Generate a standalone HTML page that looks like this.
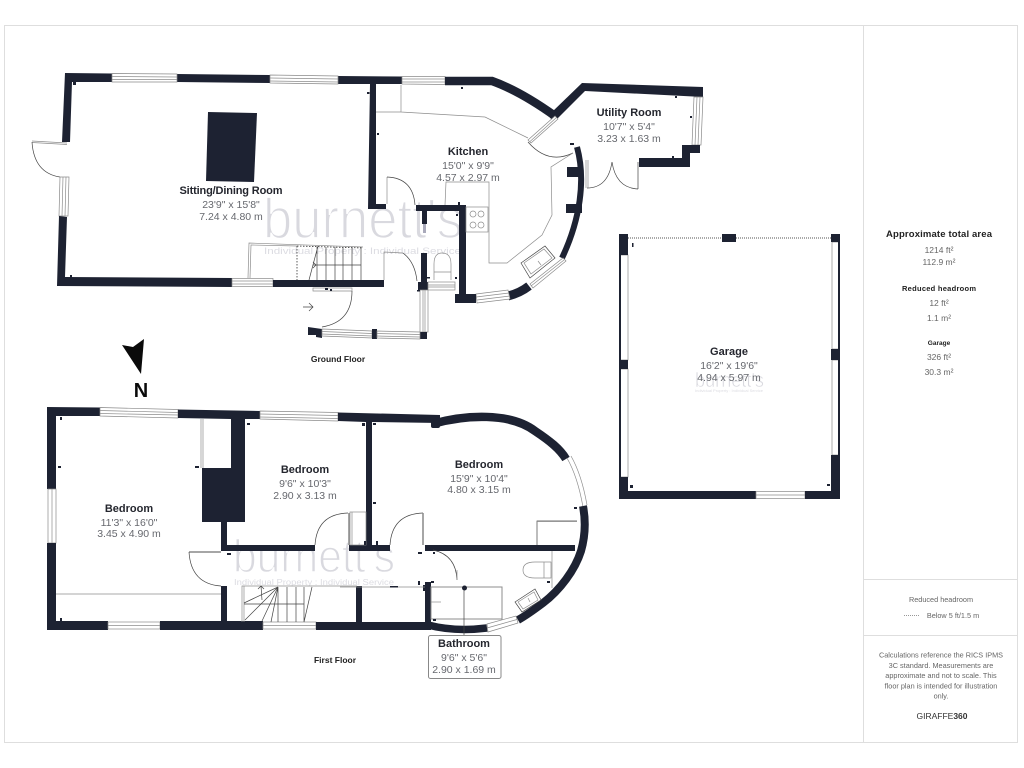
<!DOCTYPE html>
<html><head><meta charset="utf-8"><style>
html,body{margin:0;padding:0;background:#fff}
svg{display:block}
text{font-family:"Liberation Sans",sans-serif}
.t{font-size:11px;font-weight:bold;fill:#24262e;text-anchor:middle}
.d{font-size:10.5px;fill:#66686e;text-anchor:middle}
.wm{fill:#d9d9df;stroke:#fff;stroke-width:1.7}
.ws{fill:#dcdce2}
.w{fill:#1d2232}
.ws2{fill:none;stroke:#1d2232}
.win{fill:#fff;stroke:#8a8a8a;stroke-width:.7}
.l{fill:none;stroke:#8d8d8d;stroke-width:.7}
.a{fill:none;stroke:#444;stroke-width:.7}
.p{font-size:8.500px;fill:#666;text-anchor:middle}
.q{font-size:7.300px;fill:#666;text-anchor:middle}
.m{fill:#1d2232}
</style></head><body>
<svg width="1024" height="768" viewBox="0 0 1024 768" xmlns="http://www.w3.org/2000/svg">
<rect width="1024" height="768" fill="#fff"/>
<!-- frame -->
<rect x="4.5" y="25.5" width="1013" height="717" fill="none" stroke="#dedede"/>
<path d="M863.5 25V742M864 579.5H1017M864 635.5H1017" stroke="#dedede" fill="none"/>

<!-- watermarks -->
<text class="wm" x="263" y="238" font-size="57" textLength="200" lengthAdjust="spacingAndGlyphs">burnett's</text>
<text class="ws" x="264" y="254" font-size="9.5" textLength="197" lengthAdjust="spacingAndGlyphs">Individual Property : Individual Service</text>
<text class="wm" x="233" y="572" font-size="46" textLength="162" lengthAdjust="spacingAndGlyphs" style="stroke-width:1.400">burnett's</text>
<text class="ws" x="234" y="585" font-size="8" textLength="160" lengthAdjust="spacingAndGlyphs">Individual Property : Individual Service</text>
<text class="wm" x="695" y="387" font-size="20" textLength="69" lengthAdjust="spacingAndGlyphs" style="stroke-width:.5">burnett's</text>
<text class="ws" x="695" y="392" font-size="3.2" textLength="68" lengthAdjust="spacingAndGlyphs">Individual Property : Individual Service</text>

<!-- GROUND FLOOR -->
<polygon class="w" points="65,73 112,73.5 112,82 72,82 70,142 62,142"/>
<polygon class="w" points="177,74 270,75 270,83 177,82"/>
<polygon class="w" points="338,76 402,76.5 402,84 376,84 376,204 386,204 386,209 368,209 370,84 338,84"/>
<polygon class="win" points="112,73.5 177,74 177,82 112,82"/><path class="l" d="M112 76.5L177 77M112 79.5H177"/>
<polygon class="win" points="270,75 338,76 338,84 270,83"/><path class="l" d="M270 78L338 79M270 81L338 82"/>
<polygon class="win" points="402,76.5 445,76.5 445,84.5 402,84"/><path class="l" d="M402 79H445M402 82H445"/>
<!-- kitchen curved wall -->
<path class="ws2" stroke-width="8.500" d="M445 81L492 81Q520 91 555 116"/>
<polygon class="w" points="552,112 582,83 703,87 703,97 585,91 556,120"/>
<rect class="w" x="552" y="112" width="5" height="8" transform="rotate(40 554 116)"/>
<!-- utility window + lower wall -->
<polygon class="win" points="694,97 703,97 701,145 692,145"/><path class="l" d="M697 97L695 145M700 97L698 145"/>
<polygon class="w" points="682,145 700,145 700,153 690,153 690,167 639,167 639,158 682,158"/>
<!-- kitchen/utility door + window -->
<polygon class="win" points="528,140 555,116 558,119 531,143"/><path class="l" d="M530 141.500L556.500 117.500"/>
<path class="a" d="M528 142Q548 165 573 153"/>
<path class="a" d="M587 188Q608 188 612 162Q616 188 638 189M638 189V162"/>
<path class="l" d="M586 160V188M588 160V188"/>
<!-- kitchen east curved wall -->
<path class="ws2" stroke-width="6" d="M577 147C586 180 580 220 562 258"/>
<rect class="w" x="567" y="167" width="14" height="10"/>
<rect class="w" x="566" y="204" width="16" height="9"/>
<polygon class="win" points="530,284 563,258 566,261 533,288"/><path class="l" d="M531 286L564 260"/>
<path class="ws2" stroke-width="9" d="M508 296Q520 293 529 286"/>
<polygon class="win" points="476,294 508,290 510,299 477,303"/><path class="l" d="M476 297L509 293M477 300L510 296"/>
<polygon class="w" points="416,205 466,205 466,294 476,294 476,303 455,303 455,294 459,294 459,211 416,211"/>
<polygon class="w" points="422,211 427,211 427,224 422,224"/>
<rect x="423" y="224" width="3" height="9" fill="#aab"/>
<rect class="w" x="421" y="253" width="6" height="29"/>
<rect class="w" x="418" y="282" width="10" height="8"/>
<rect class="win" x="428" y="282" width="27" height="8"/><path class="l" d="M428 285H455M428 287H455"/>
<rect class="win" x="420" y="290" width="8" height="42"/><path class="l" d="M423 290V332M425 290V332"/>
<rect class="w" x="419" y="332" width="8" height="7"/>
<!-- porch -->
<polygon class="w" points="308,327 322,329 322,338 316,337 316,335 308,335"/>
<polygon class="win" points="322,329 372,331 372,338 322,336"/><path class="l" d="M322 331.500L372 333.500M322 334L372 336"/>
<rect class="w" x="372" y="329" width="5" height="10"/>
<polygon class="win" points="377,331 420,332 420,339 377,338"/><path class="l" d="M377 333.500L420 334.500M377 336L420 337"/>
<!-- entry door -->
<path class="l" d="M313 288H352V291H313Z"/>
<path class="a" d="M352 291Q352 322 322 327"/>
<path class="a" d="M303 307H313M309 303L313 307L309 311"/>
<!-- west side -->
<path class="l" d="M32 141L67 143M32 142.500L67 144.500"/>
<path class="a" d="M32 142Q34 173 60 177"/>
<polygon class="win" points="60,177 69,177 68,216 59,216"/><path class="l" d="M63 177L62 216M66 177L65 216"/>
<polygon class="w" points="59,216 67,217 65,277 232,278 232,287 57,286"/>
<rect class="win" x="232" y="278.500" width="41" height="8"/><path class="l" d="M232 281H273M232 284H273"/>
<rect class="w" x="273" y="280" width="111" height="7"/>
<!-- chimney -->
<polygon class="w" points="208,112 257,113 254,182 206,181"/>
<!-- ground stairs -->
<path class="l" d="M248 278L249 243L363 247M250 278L251 245L297 246"/>
<path d="M297 246V280M297 246L363 248" stroke="#333" stroke-width=".8" stroke-dasharray="1.500 1.500" fill="none"/>
<path class="a" d="M318 246L309 280M317 247V280M326 247V280M335 247V280M343 247V280M352 247V280M361 247V280M313 265H361M313 262L316 265L313 268" />
<!-- kitchen fittings -->
<path class="l" d="M376 112H401V85M401 112L485 117L528 138"/>
<path class="l" d="M573 153L551 167L552 215L542 235L507 263H489V182H446L445 205"/>
<rect class="l" x="466" y="207" width="22" height="25"/>
<circle class="l" cx="473" cy="214" r="3"/><circle class="l" cx="481" cy="214" r="3"/><circle class="l" cx="473" cy="225" r="3"/><circle class="l" cx="481" cy="225" r="3"/>
<polygon class="a" points="521,263 545,246 555,258 530,278"/><polygon class="l" points="524,263 544,249 552,258 531,274"/><path class="l" d="M538 261L541 265"/>
<!-- hall door -->
<path class="l" d="M387 204V177"/><path class="a" d="M387 177Q413 178 415 205"/>
<path class="l" d="M384 280V252L403 253"/><path class="a" d="M403 253Q415 262 417 281"/>
<path class="l" d="M434 280V264Q434 253 442 253Q451 253 451 264V280M434 272H451"/>

<!-- GARAGE -->
<rect class="win" x="620" y="255" width="8" height="105"/><rect class="win" x="620" y="369" width="8" height="108"/>
<path d="M620 255V477" stroke="#1d2232" stroke-width="2"/>
<rect class="w" x="619" y="234" width="9" height="21"/><rect class="w" x="619" y="360" width="9" height="9"/><rect class="w" x="619" y="477" width="9" height="22"/>
<rect class="w" x="619" y="491" width="137" height="8"/>
<rect class="win" x="756" y="491.500" width="49" height="7"/><path class="l" d="M756 495H805"/>
<rect class="w" x="805" y="491" width="35" height="8"/>
<rect class="win" x="832" y="242" width="7" height="107"/><rect class="win" x="832" y="360" width="7" height="95"/>
<path d="M839 242V455" stroke="#1d2232" stroke-width="2"/>
<rect class="w" x="831" y="234" width="9" height="8"/><rect class="w" x="831" y="349" width="9" height="11"/><rect class="w" x="831" y="455" width="9" height="44"/>
<path d="M628 238H831" stroke="#555" stroke-width="1" stroke-dasharray="1 1"/>
<rect class="w" x="722" y="234" width="14" height="8"/>

<!-- FIRST FLOOR -->
<polygon class="w" points="47,407 100,407.500 100,416 56,416 56,489 47,489"/>
<polygon class="win" points="100,407.500 178,409.500 178,418 100,416"/><path class="l" d="M100 410.500L178 412.500M100 413.500L178 415"/>
<rect class="win" x="48" y="489" width="8" height="54"/><path class="l" d="M52 489V543"/>
<rect class="w" x="47" y="543" width="9" height="87"/>
<rect class="w" x="47" y="621" width="61" height="9"/>
<rect class="win" x="108" y="622" width="52" height="7"/><path class="l" d="M108 625.500H160"/>
<rect class="w" x="160" y="621" width="103" height="9"/>
<rect class="win" x="263" y="622" width="53" height="7"/><path class="l" d="M263 625.500H316"/>
<rect class="w" x="316" y="622" width="115" height="8"/>
<polygon class="w" points="178,409.500 260,411 260,419 245,419 245,522 227,522 227,545 315,545 315,551 221,551 221,522 202,522 202,468 231,468 231,419 178,418"/>
<polygon class="win" points="260,411 338,412.500 338,421 260,419"/><path class="l" d="M260 414L338 415.500M260 417L338 418.500"/>
<polygon class="w" points="338,412.500 440,415 440,423 372,422 372,545 390,545 390,551 349,551 349,545 366,545 366,422 338,421"/>
<rect class="w" x="221" y="586" width="6" height="36"/>
<rect class="w" x="356" y="586" width="6" height="36"/>
<rect class="w" x="425" y="582" width="6" height="41"/>
<rect class="w" x="423" y="585" width="5" height="6"/>
<rect class="w" x="425" y="545" width="150" height="6"/>
<path class="ws2" stroke-width="8.500" d="M434 423.500C465 415 510 412 535 431C550 441 560 449 566 459"/>
<rect class="w" x="431" y="420" width="9" height="8" rx="2"/>
<path class="l" d="M571 456C579 470 584 488 587 505M567 458C575 472 580 490 583 507"/>
<path class="ws2" stroke-width="8" d="M583 506C586 522 585 537 581 551C575 570 560 590 543 603C535 609 527 615 518 620"/>
<path class="ws2" stroke-width="7.500" d="M428 625Q455 632 487 628"/>
<polygon class="win" points="487,624 516,616 518,623 488,632"/><path class="l" d="M487 628L517 619.500"/>
<!-- doors first floor -->
<path class="a" d="M315 545Q317 514 348 513"/><path d="M349 513V545" stroke="#888" stroke-width="1.500"/>
<path class="a" d="M390 545Q392 514 423 513"/><path d="M423 513V545" stroke="#888" stroke-width="1.500"/>
<path d="M189 552H221" stroke="#888" stroke-width="1.500"/><path class="a" d="M189 552Q191 584 221 586"/>
<path class="a" d="M433 550Q456 555 457 580"/><path class="l" d="M457 580L457 570"/>
<!-- fittings first floor -->
<path class="l" d="M56 594H221"/>
<path class="l" d="M201 419V468M203 419V468"/>
<rect class="l" x="350" y="512" width="16" height="33"/><path class="l" d="M352 512V545"/>
<path class="a" d="M537 545V521H577"/><path class="l" d="M537 521.500H577"/>
<path class="l" d="M544 562H551V578H544ZM544 562H535Q523 562 523 570Q523 578 535 578H544M552 551V588"/>
<polygon class="a" points="515,602 535,589 541,600 522,612"/><polygon class="l" points="518,602 534,592 538,600 523,609"/><path class="l" d="M528 598L530 602"/>
<rect class="l" x="431" y="587" width="71" height="32" style="stroke-width:1"/>
<path class="l" d="M431 602H441"/>
<path class="a" d="M464 588V635"/><circle class="m" cx="464.500" cy="588" r="2.500"/>
<path class="l" d="M340 587H425"/><rect class="m" x="390" y="586" width="8" height="1.500"/>
<!-- first stairs -->
<path class="l" d="M242 622V586H357M244 586V622"/>
<path class="a" d="M278 587L245 620M278 587L244 603M278 587L262 621M278 587L271 622M278 587V622M287 587V622M296 587V622M304 587V622M312 587L304 622M244 604H304M258 589L261 586L264 589M261 586L262 600"/>

<!-- tick marks -->
<g class="m">
<rect x="73" y="82" width="3" height="3"/><rect x="367" y="92" width="2.500" height="2"/><rect x="377" y="133" width="2" height="2"/><rect x="70" y="275" width="2" height="3"/>
<rect x="461" y="87" width="2" height="2"/><rect x="675" y="96" width="2" height="2"/><rect x="690" y="116" width="2" height="2"/><rect x="672" y="156" width="2" height="2"/><rect x="570" y="143" width="4" height="2"/>
<rect x="458" y="202" width="2" height="3"/><rect x="456" y="214" width="2" height="2"/><rect x="427" y="277" width="3" height="1.500"/><rect x="455" y="277" width="2" height="2"/><rect x="417" y="290" width="3" height="1.500"/>
<rect x="325" y="288" width="3" height="2"/><rect x="330" y="289" width="2" height="2"/>
<rect x="632" y="243" width="1.500" height="4"/><rect x="630" y="485" width="3" height="3"/><rect x="827" y="484" width="3" height="2"/>
<rect x="60" y="417" width="2" height="3"/><rect x="58" y="466" width="3" height="2"/><rect x="60" y="618" width="2" height="3"/><rect x="195" y="466" width="4" height="2"/><rect x="247" y="423" width="3" height="2"/>
<rect x="362" y="423" width="3" height="3"/><rect x="373" y="423" width="3" height="2"/><rect x="373" y="502" width="3" height="2"/><rect x="364" y="541" width="2" height="4"/><rect x="376" y="541" width="2" height="4"/>
<rect x="227" y="553" width="4" height="2"/><rect x="418" y="552" width="4" height="2"/><rect x="433" y="552" width="2" height="2"/><rect x="418" y="581" width="2" height="4"/><rect x="431" y="581" width="3" height="2"/>
<rect x="433" y="619" width="3" height="2"/><rect x="547" y="581" width="3" height="2"/><rect x="574" y="507" width="3" height="2"/>
</g>

<!-- bathroom label -->
<rect x="428.500" y="635.500" width="72.500" height="43" rx="2" fill="#fff" stroke="#888"/>

<!-- north -->
<polygon points="122,345 133,347 144,339 141,374" fill="#0a0a0a"/>
<text x="141" y="397" text-anchor="middle" font-size="20" font-weight="bold" fill="#0a0a0a">N</text>

<!-- labels -->
<text class="t" x="231" y="194" textLength="103">Sitting/Dining Room</text><text class="d" x="231" y="208">23'9" x 15'8"</text><text class="d" x="231" y="220">7.24 x 4.80 m</text>
<text class="t" x="468" y="155">Kitchen</text><text class="d" x="468" y="169">15'0" x 9'9"</text><text class="d" x="468" y="181">4.57 x 2.97 m</text>
<text class="t" x="629" y="116">Utility Room</text><text class="d" x="629" y="130">10'7" x 5'4"</text><text class="d" x="629" y="142">3.23 x 1.63 m</text>
<text class="t" x="729" y="355">Garage</text><text class="d" x="729" y="369">16'2" x 19'6"</text><text class="d" x="729" y="381">4.94 x 5.97 m</text>
<text class="t" x="129" y="512">Bedroom</text><text class="d" x="129" y="526">11'3" x 16'0"</text><text class="d" x="129" y="537">3.45 x 4.90 m</text>
<text class="t" x="305" y="473">Bedroom</text><text class="d" x="305" y="487">9'6" x 10'3"</text><text class="d" x="305" y="499">2.90 x 3.13 m</text>
<text class="t" x="479" y="468">Bedroom</text><text class="d" x="479" y="482">15'9" x 10'4"</text><text class="d" x="479" y="493">4.80 x 3.15 m</text>
<text class="t" x="464" y="647">Bathroom</text><text class="d" x="464" y="661">9'6" x 5'6"</text><text class="d" x="464" y="673">2.90 x 1.69 m</text>
<text x="338" y="362" text-anchor="middle" font-size="8.500" font-weight="bold" fill="#222">Ground Floor</text>
<text x="335" y="663" text-anchor="middle" font-size="8.500" font-weight="bold" fill="#222">First Floor</text>

<!-- panel -->
<text x="939" y="237" text-anchor="middle" font-size="9.500" font-weight="bold" fill="#222" textLength="106">Approximate total area</text>
<text class="p" x="939" y="253">1214 ft²</text><text class="p" x="939" y="265">112.9 m²</text>
<text x="939" y="291" text-anchor="middle" font-size="7.500" font-weight="bold" fill="#222" textLength="74">Reduced headroom</text>
<text class="p" x="939" y="306">12 ft²</text><text class="p" x="939" y="321">1.1 m²</text>
<text x="939" y="345" text-anchor="middle" font-size="6.500" font-weight="bold" fill="#222">Garage</text>
<text class="p" x="939" y="360">326 ft²</text><text class="p" x="939" y="375">30.3 m²</text>
<text class="q" x="941" y="602">Reduced headroom</text>
<path d="M904 615.500H919" stroke="#777" stroke-width=".8" stroke-dasharray="1 1"/>
<text class="q" x="953" y="618">Below 5 ft/1.5 m</text>
<text class="q" x="941" y="657.500">Calculations reference the RICS IPMS</text>
<text class="q" x="941" y="668">3C standard. Measurements are</text>
<text class="q" x="941" y="678">approximate and not to scale. This</text>
<text class="q" x="941" y="688.500">floor plan is intended for illustration</text>
<text class="q" x="941" y="698.500">only.</text>
<text x="942" y="719" text-anchor="middle" font-size="8.500" fill="#333">GIRAFFE<tspan font-weight="bold">360</tspan></text>
</svg>
</body></html>
